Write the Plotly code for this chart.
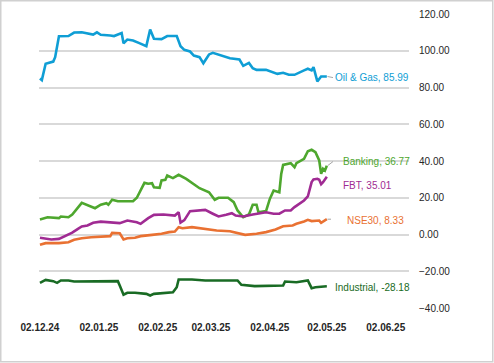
import plotly.graph_objects as go

# ---------------- data ----------------
oil_dates = ["2024-12-02","2024-12-03","2024-12-05","2024-12-09","2024-12-10","2024-12-12","2024-12-17",
             "2024-12-20","2024-12-24","2024-12-30","2025-01-01","2025-01-03","2025-01-08","2025-01-10",
             "2025-01-14","2025-01-15","2025-01-17","2025-01-20","2025-01-23","2025-01-27","2025-01-29",
             "2025-01-31","2025-02-04","2025-02-07","2025-02-12","2025-02-14","2025-02-16","2025-02-19",
             "2025-02-21","2025-02-24","2025-02-26","2025-03-01","2025-03-03","2025-03-07","2025-03-12",
             "2025-03-17","2025-03-19","2025-03-22","2025-03-24","2025-03-26","2025-03-31","2025-04-06",
             "2025-04-09","2025-04-12","2025-04-15","2025-04-20","2025-04-22","2025-04-24","2025-04-25",
             "2025-04-27","2025-04-29","2025-05-02"]
oil_vals = [84.9,84.0,92.9,94.1,96.5,107.9,108.0,109.9,110.1,108.8,110.0,108.7,108.3,108.0,
            109.6,104.1,106.1,105.6,104.3,102.5,111.6,106.5,106.3,108.0,108.0,102.5,100.5,99.6,
            97.4,96.5,93.2,98.0,98.9,97.6,95.9,95.2,91.8,93.4,90.5,89.6,89.6,87.4,
            88.0,86.9,86.9,89.3,90.2,89.3,91.1,83.3,86.0,85.99]

bank_dates = ["2024-12-02","2024-12-06","2024-12-12","2024-12-13","2024-12-17","2024-12-19","2024-12-24",
              "2024-12-27","2024-12-31","2025-01-03","2025-01-06","2025-01-07","2025-01-09","2025-01-12",
              "2025-01-20","2025-01-22","2025-01-26","2025-01-28","2025-01-30","2025-01-31","2025-02-03",
              "2025-02-04","2025-02-06","2025-02-07","2025-02-10","2025-02-13","2025-02-16","2025-02-17",
              "2025-02-24","2025-03-01","2025-03-04","2025-03-06","2025-03-11","2025-03-14","2025-03-16",
              "2025-03-19","2025-03-22","2025-03-24","2025-03-26","2025-03-27","2025-03-31","2025-04-02",
              "2025-04-04","2025-04-07","2025-04-08","2025-04-09","2025-04-13","2025-04-15","2025-04-16",
              "2025-04-20","2025-04-22","2025-04-24","2025-04-26","2025-04-28","2025-04-29","2025-04-30",
              "2025-05-01","2025-05-02"]
bank_vals = [8.2,9.4,8.9,9.8,9.4,10.9,17.2,15.8,14.3,16.2,17.0,16.2,18.9,18.1,
             18.1,20.0,28.1,27.6,27.9,25.7,25.4,29.4,29.8,32.1,30.7,32.5,30.9,30.3,
             25.2,23.0,18.9,20.0,20.0,17.6,13.1,9.4,10.9,16.2,16.2,12.1,12.7,19.4,
             23.9,23.0,33.0,37.9,38.8,36.6,38.8,41.2,45.3,46.1,44.8,40.3,33.0,35.8,
             34.8,37.4]

fbt_dates = ["2024-12-02","2024-12-08","2024-12-12","2024-12-15","2024-12-19","2024-12-22","2024-12-24",
             "2024-12-27","2024-12-30","2025-01-03","2025-01-09","2025-01-13","2025-01-17","2025-01-22",
             "2025-01-24","2025-01-28","2025-01-31","2025-02-05","2025-02-11","2025-02-13","2025-02-14",
             "2025-02-16","2025-02-19","2025-02-24","2025-02-27","2025-03-03","2025-03-06","2025-03-10",
             "2025-03-13","2025-03-15","2025-03-19","2025-03-24","2025-03-31","2025-04-04","2025-04-07",
             "2025-04-10","2025-04-13","2025-04-15","2025-04-18","2025-04-20","2025-04-22","2025-04-23",
             "2025-04-24","2025-04-25","2025-04-27","2025-04-28","2025-04-29","2025-04-30","2025-05-02"]
fbt_vals = [-1.8,-2.7,-2.4,-0.9,1.0,3.1,4.4,4.9,6.4,7.0,6.7,6.2,7.6,6.7,
            5.8,8.9,10.7,10.9,10.3,12.1,6.5,7.8,12.7,13.1,13.4,11.3,9.8,10.7,
            11.6,10.3,9.8,10.9,12.1,11.3,11.3,13.1,13.1,14.9,17.0,18.5,20.7,24.9,
            28.5,30.0,30.3,29.8,27.4,28.5,31.4]

nse_dates = ["2024-12-02","2024-12-05","2024-12-12","2024-12-17","2024-12-20","2024-12-24","2024-12-29",
             "2025-01-03","2025-01-08","2025-01-09","2025-01-13","2025-01-15","2025-01-17","2025-01-21",
             "2025-01-24","2025-01-30","2025-02-04","2025-02-08","2025-02-11","2025-02-13","2025-02-15",
             "2025-02-20","2025-02-26","2025-03-05","2025-03-12","2025-03-18","2025-03-20","2025-03-26",
             "2025-03-31","2025-04-05","2025-04-09","2025-04-14","2025-04-16","2025-04-20","2025-04-22",
             "2025-04-24","2025-04-28","2025-04-29","2025-05-02"]
nse_vals = [-5.6,-4.7,-4.7,-4.2,-2.9,-2.0,-1.5,-1.1,-0.9,0.9,0.7,-2.7,-2.0,-1.8,
            -0.9,-0.2,0.4,1.3,1.6,4.0,3.4,4.0,3.1,2.2,1.8,0.0,-0.2,0.4,
            1.3,2.7,4.5,4.9,5.8,7.1,8.0,7.3,7.6,6.4,8.33]

ind_dates = ["2024-12-02","2024-12-05","2024-12-09","2024-12-11","2024-12-13","2024-12-17","2024-12-20",
             "2024-12-31","2025-01-12","2025-01-13","2025-01-15","2025-01-17","2025-01-21","2025-01-27",
             "2025-01-29","2025-01-31","2025-02-07","2025-02-08","2025-02-10","2025-02-12","2025-02-13",
             "2025-02-20","2025-02-27","2025-03-16","2025-03-18","2025-03-25","2025-04-01","2025-04-09",
             "2025-04-10","2025-04-16","2025-04-22","2025-04-24","2025-04-26","2025-05-01","2025-05-02"]
ind_vals = [-26.3,-24.7,-25.4,-26.3,-25.0,-25.0,-25.6,-25.4,-25.4,-27.8,-32.8,-31.7,-31.7,-32.3,
            -33.2,-32.3,-31.7,-31.4,-31.4,-28.7,-24.5,-24.5,-25.0,-25.0,-27.4,-28.1,-28.1,-27.8,
            -25.6,-26.0,-25.0,-29.2,-28.7,-28.5,-28.18]

series_names = ["Oil & Gas", "Banking", "FBT", "NSE30", "Industrial"]
label_values = ["85.99", "36.77", "35.01", "8.33", "-28.18"]
series_colors = ["#0F9ED5", "#4EA72E", "#A02B93", "#E97132", "#196B24"]

x_tick_vals = ["2024-12-02","2025-01-02","2025-02-02","2025-03-02","2025-04-02","2025-05-02","2025-06-02"]
x_tick_text = ["02.12.24","02.01.25","02.02.25","02.03.25","02.04.25","02.05.25","02.06.25"]
y_tick_vals = [-40, -20, 0, 20, 40, 60, 80, 100, 120]

# ---------------- layout geometry ----------------
W, H = 494, 363
ML, MR, MT, MB = 39, 85, 14, 55
PW, PH = W - ML - MR, H - MT - MB

def px(x):
    return (x - ML) / PW

def py(y):
    return (H - MB - y) / PH

FONT = "Liberation Sans, Arial, sans-serif"

fig = go.Figure()
all_dates = [oil_dates, bank_dates, fbt_dates, nse_dates, ind_dates]
all_vals = [oil_vals, bank_vals, fbt_vals, nse_vals, ind_vals]
for name, d, v, c in zip(series_names, all_dates, all_vals, series_colors):
    fig.add_trace(go.Scatter(x=d, y=v, mode="lines", name=name,
                             line=dict(color=c, width=2.6), hoverinfo="x+y+name"))

# label positions (left edge in px, centre value)
label_px = [334, 342, 342, 346, 334]
label_y = [85.4, 39.7, 26.7, 7.6, -28.7]
for name, lv, c, lx, ly in zip(series_names, label_values, series_colors, label_px, label_y):
    fig.add_annotation(x=px(lx), xref="paper", y=ly, yref="y", xanchor="left", yanchor="middle",
                       text=f"{name}, {lv}", showarrow=False,
                       font=dict(family=FONT, size=10, color=c), borderpad=0)

# leader lines from series end to labels
leaders = [(oil_vals[-1], 85.4, 333), (bank_vals[-1], 39.7, 333), (nse_vals[-1], 8.33, 331)]
for v0, v1, xe in leaders:
    fig.add_shape(type="line", xref="paper", yref="y", x0=px(327.5), x1=px(xe),
                  y0=v0, y1=v1, line=dict(color="#A6A6A6", width=1))

# outer border
fig.add_shape(type="rect", xref="paper", yref="paper",
              x0=px(0.75), x1=px(W - 1.25), y0=py(H - 1.25), y1=py(0.75),
              line=dict(color="#D0D0D0", width=1.5), fillcolor="rgba(0,0,0,0)", layer="below")

fig.update_layout(
    width=W, height=H,
    margin=dict(l=ML, r=MR, t=MT, b=MB, pad=0, autoexpand=False),
    paper_bgcolor="white", plot_bgcolor="white",
    showlegend=False,
    font=dict(family=FONT, size=10, color="#262626"),
    xaxis=dict(type="date", range=["2024-12-01 12:00", "2025-06-14 06:00"],
               tickvals=x_tick_vals, ticktext=x_tick_text, tickangle=0, automargin=False,
               tickfont=dict(family=FONT, size=10, color="#262626", weight="bold"),
               showgrid=False, zeroline=False, showline=False, ticks="",
               ticklabelstandoff=12),
    yaxis=dict(range=[-40, 120], tickvals=y_tick_vals, tickformat=".2f", side="right",
               showgrid=True, gridcolor="#D9D9D9", gridwidth=1.5, zeroline=False,
               showline=False, ticks="", ticklabelstandoff=9, automargin=False,
               tickfont=dict(family=FONT, size=10, color="#262626")),
)

fig.write_html("out.html", config={"displayModeBar": False},
               post_script="document.body.style.margin='0';document.body.style.overflow='hidden';")
